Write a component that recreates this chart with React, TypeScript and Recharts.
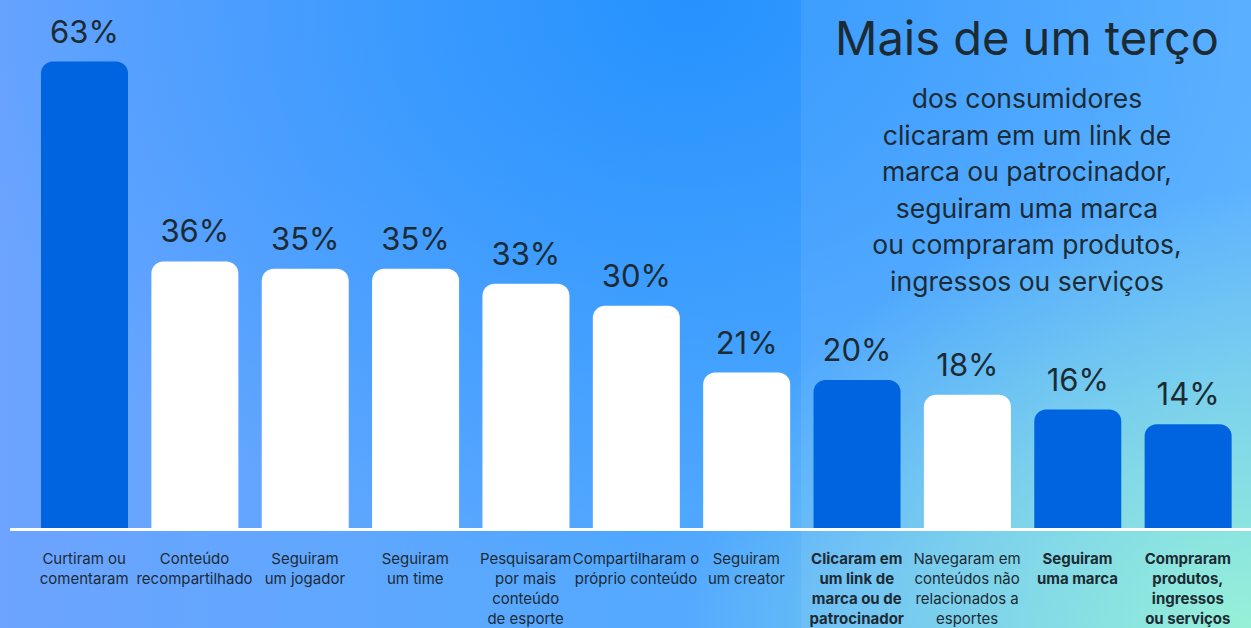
import { BarChart, Bar, XAxis, YAxis, Cell, LabelList } from 'recharts';

const categories = [
  ['Curtiram ou', 'comentaram'],
  ['Conteúdo', 'recompartilhado'],
  ['Seguiram', 'um jogador'],
  ['Seguiram', 'um time'],
  ['Pesquisaram', 'por mais', 'conteúdo', 'de esporte'],
  ['Compartilharam o', 'próprio conteúdo'],
  ['Seguiram', 'um creator'],
  ['Clicaram em', 'um link de', 'marca ou de', 'patrocinador'],
  ['Navegaram em', 'conteúdos não', 'relacionados a', 'esportes'],
  ['Seguiram', 'uma marca'],
  ['Compraram', 'produtos,', 'ingressos', 'ou serviços'],
];
const values = [63, 36, 35, 35, 33, 30, 21, 20, 18, 16, 14];
// bars highlighted in dark blue (also bold labels for the brand-related ones)
const highlighted = [true, false, false, false, false, false, false, true, false, true, true];
const boldLabel = [false, false, false, false, false, false, false, true, false, true, true];

const subtitleLines = [
  'dos consumidores',
  'clicaram em um link de',
  'marca ou patrocinador,',
  'seguiram uma marca',
  'ou compraram produtos,',
  'ingressos ou serviços',
];

const data = values.map((v, i) => ({ name: String(i), value: v }));

const FONT = 'Inter, "Noto Sans", sans-serif';
const TEXT = '#1c2b33';

function CategoryTick(props: any) {
  const { x, y, payload } = props;
  const idx = Number(payload.value);
  const lines = categories[idx];
  return (
    <text
      x={x}
      y={y}
      textAnchor="middle"
      fill={TEXT}
      fontSize={15}
      fontFamily={FONT}
      fontWeight={boldLabel[idx] ? 700 : 400}
    >
      {lines.map((l, j) => (
        <tspan key={j} x={x} dy={j === 0 ? 28 : 20}>
          {l}
        </tspan>
      ))}
    </text>
  );
}

export default function App() {
  return (
    <div
      style={{
        position: 'absolute',
        left: 0,
        top: 0,
        width: 1251,
        height: 628,
        overflow: 'hidden',
        fontFamily: FONT,
        background: [
          'radial-gradient(ellipse 45% 70% at 100% 100%, rgba(142,240,212,1) 0%, rgba(142,240,212,0) 100%)',
          'radial-gradient(ellipse 60% 95% at 55% 0%, rgba(38,146,254,1) 0%, rgba(38,146,254,0) 100%)',
          'linear-gradient(90deg, #6ca4ff 0%, #55a9ff 50%, #5ab2ff 100%)',
        ].join(','),
      }}
    >
      {/* lighter panel on the right */}
      <div
        style={{
          position: 'absolute',
          left: 801,
          top: 0,
          width: 450,
          height: 628,
          background: 'rgba(255,255,255,0.08)',
        }}
      />
      <div
        style={{
          position: 'absolute',
          left: 800,
          top: 8,
          width: 454,
          textAlign: 'center',
          color: TEXT,
        }}
      >
        <div style={{ fontSize: 47, lineHeight: '60px' }}>Mais de um terço</div>
        <div style={{ fontSize: 26.5, lineHeight: '36.6px', marginTop: 12 }}>
          {subtitleLines.map((l) => (
            <div key={l}>{l}</div>
          ))}
        </div>
      </div>
      {/* baseline */}
      <div
        style={{
          position: 'absolute',
          left: 10,
          top: 528,
          width: 1241,
          height: 3,
          background: '#ffffff',
        }}
      />
      <div style={{ position: 'absolute', left: 0, top: 0 }}>
        <BarChart
          width={1251}
          height={628}
          data={data}
          margin={{ top: 6, right: 8, left: 29, bottom: 0 }}
        >
          <XAxis
            dataKey="name"
            axisLine={false}
            tickLine={false}
            height={100}
            interval={0}
            tick={<CategoryTick />}
          />
          <YAxis hide domain={[0, 70.5]} />
          <Bar dataKey="value" barSize={87} radius={[12, 12, 0, 0]} isAnimationActive={false}>
            {data.map((d, i) => (
              <Cell key={d.name} fill={highlighted[i] ? '#0064e0' : '#ffffff'} />
            ))}
            <LabelList
              dataKey="value"
              position="top"
              offset={19}
              formatter={(v: any) => `${v}%`}
              style={{ fill: TEXT, fontSize: 31, fontFamily: FONT }}
            />
          </Bar>
        </BarChart>
      </div>
    </div>
  );
}
